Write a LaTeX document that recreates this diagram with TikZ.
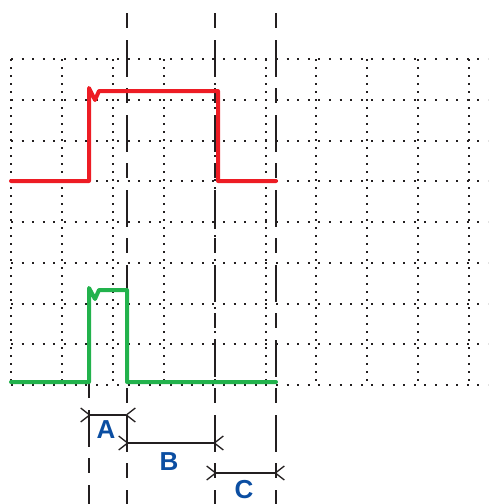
\documentclass[tikz,border=0pt]{standalone}
\usepackage{fontspec}
\setmainfont{Liberation Sans}
\usetikzlibrary{arrows.meta}
\definecolor{sigred}{HTML}{ED1C24}
\definecolor{siggreen}{HTML}{22B24C}
\definecolor{lblblue}{HTML}{0B4EA2}
\definecolor{inkdark}{HTML}{231F20}

\begin{document}
\begin{tikzpicture}[x=1pt, y=-1pt,
        gridh/.style={draw=inkdark, line width=2pt, dash pattern=on 2pt off 8.6pt},
        gridv/.style={draw=inkdark, line width=2pt, dash pattern=on 2pt off 6pt},
        marker/.style={draw=inkdark, line width=1.8pt,
                       dash pattern=on 15pt off 12pt on 37pt off 11pt},
        signal/.style={line width=4pt, line join=round, line cap=round},
        dim/.style={draw=inkdark, line width=1.3pt,
                    {Straight Barb[reversed, length=9pt, width=14pt]}-{Straight Barb[reversed, length=9pt, width=14pt]},
                    shorten <=-9pt, shorten >=-9pt},
        lbl/.style={text=lblblue, font=\fontsize{26}{30}\selectfont\bfseries, inner sep=0pt}
    ]
    \useasboundingbox (0,0) rectangle (488,504);

    % Grid
    \foreach \i in {0,...,9}
        \draw[gridv] (11+50.9*\i,59) -- (11+50.9*\i,385);
    \foreach \j in {0,...,8}
        \draw[gridh] (11,59+40.75*\j) -- (488,59+40.75*\j);

    % Time markers
    \coordinate (m0top) at (89,383);
    \coordinate (m0bot) at (89,504);
    \coordinate (m1top) at (127,13);
    \coordinate (m1bot) at (127,504);
    \coordinate (m2top) at (215,13);
    \coordinate (m2bot) at (215,504);
    \coordinate (m3top) at (276,13);
    \coordinate (m3bot) at (276,504);
    \foreach \m in {m0,m1,m2,m3}
        \draw[marker] (\m top) -- (\m bot);

    % Signals
    \draw[signal, sigred] (11,181) -- (89,181) -- (89,88) -- (95,100) -- (99,91)
        -- (218,91) -- (218,181) -- (276,181);
    \draw[signal, siggreen] (11,382) -- (89,382) -- (89,288) -- (95,299) -- (99,290)
        -- (127,290) -- (127,382) -- (276,382);

    % Intervals
    \coordinate (a1) at (89,415);
    \coordinate (a2) at (127,415);
    \coordinate (b1) at (127,443);
    \coordinate (b2) at (215,443);
    \coordinate (c1) at (215,473);
    \coordinate (c2) at (276,473);
    \draw[dim] (a1) -- (a2);
    \draw[dim] (b1) -- (b2);
    \draw[dim] (c1) -- (c2);

    \node[lbl] (labA) at (106,430) {A};
    \node[lbl] (labB) at (169,462) {B};
    \node[lbl] (labC) at (244,490) {C};
\end{tikzpicture}
\end{document}
